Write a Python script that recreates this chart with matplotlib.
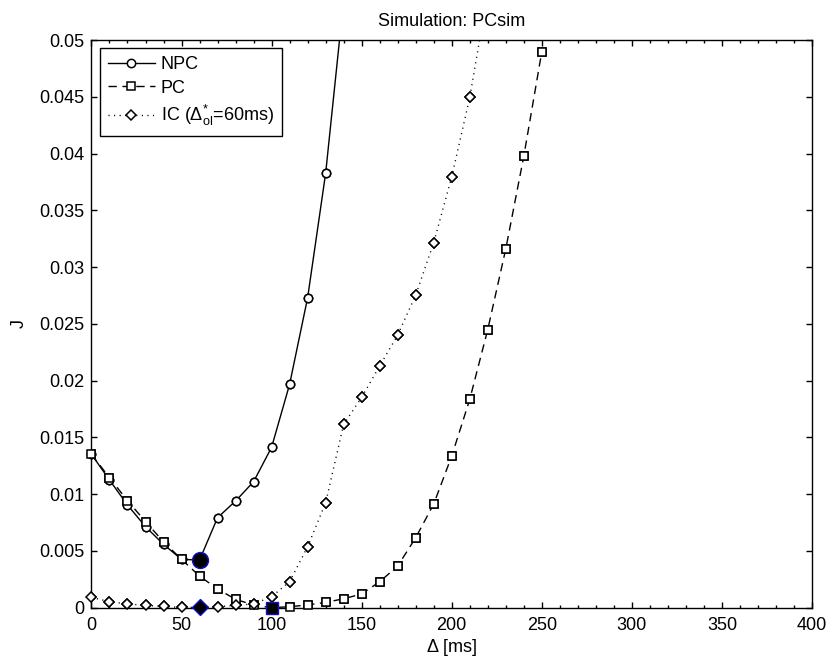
import matplotlib
matplotlib.use("Agg")
import matplotlib.pyplot as plt
import numpy as np

plt.rcParams['font.family'] = ['Liberation Sans', 'DejaVu Sans']
plt.rcParams['mathtext.fontset'] = 'custom'
plt.rcParams['mathtext.rm'] = 'Liberation Sans'
plt.rcParams['mathtext.it'] = 'Liberation Sans'

# data
delta_npc = [0, 10, 20, 30, 40, 50, 60, 70, 80, 90, 100, 110, 120, 130, 140]
j_npc = [0.01351, 0.01125, 0.00905, 0.00714, 0.00558, 0.00426, 0.00420, 0.00793,
         0.00940, 0.01110, 0.01413, 0.01968, 0.02730, 0.03826, 0.05350]

delta_pc = [0, 10, 20, 30, 40, 50, 60, 70, 80, 90, 100, 110, 120, 130, 140, 150, 160,
            170, 180, 190, 200, 210, 220, 230, 240, 250]
j_pc = [0.01351, 0.01145, 0.00943, 0.00758, 0.00581, 0.00426, 0.00279, 0.00165,
        0.00074, 0.00024, 0.00000, 0.00009, 0.00024, 0.00047, 0.00079, 0.00121,
        0.00229, 0.00367, 0.00617, 0.00913, 0.01336, 0.01835, 0.02450, 0.03160,
        0.03976, 0.04897]

delta_ic = [0, 10, 20, 30, 40, 50, 60, 70, 80, 90, 100, 110, 120, 130, 140, 150, 160,
            170, 180, 190, 200, 210, 220]
j_ic = [0.00091, 0.00053, 0.00033, 0.00021, 0.00012, 0.00003, 0.00003, 0.00009,
        0.00021, 0.00033, 0.00097, 0.00229, 0.00537, 0.00925, 0.01615, 0.01853,
        0.02129, 0.02402, 0.02754, 0.03215, 0.03796, 0.04495, 0.05420]

# optimum points (filled markers)
opt_npc = (60, 0.00420)
opt_pc = (100, 0.00000)
opt_ic = (60, 0.00003)

x_ticks = [0, 50, 100, 150, 200, 250, 300, 350, 400]
y_ticks = [0, 0.005, 0.01, 0.015, 0.02, 0.025, 0.03, 0.035, 0.04, 0.045, 0.05]
y_ticklabels = ['0', '0.005', '0.01', '0.015', '0.02', '0.025', '0.03', '0.035',
                '0.04', '0.045', '0.05']

xmax, ymax = 400, 0.05

fig = plt.figure(figsize=(8.3, 6.61), dpi=100)
ax = fig.add_axes([0.1102, 0.0806, 0.8681, 0.8588])

series = [
    (delta_npc, j_npc, 'o', 6, '-', 'NPC'),
    (delta_pc, j_pc, 's', 5.8, (0, (6, 4)), 'PC'),
    (delta_ic, j_ic, 'D', 5.2, (0, (0.8, 3.2)), r'IC ($\Delta^{*}_{\mathrm{ol}}$=60ms)'),
]

for xs, ys, mk, ms, ls, lab in series:
    xs = np.array(xs)
    ys = np.array(ys)
    ax.plot(xs, ys, color='k', lw=1.0, linestyle=ls, marker=mk, markersize=ms,
            markerfacecolor='white', markeredgecolor='k', markeredgewidth=1.1,
            label=lab)
    # markers are not cut at the axes edge (MATLAB style)
    inside = ys <= ymax
    ax.plot(xs[inside], ys[inside], linestyle='none', marker=mk, markersize=ms,
            markerfacecolor='white', markeredgecolor='k', markeredgewidth=1.1,
            clip_on=False, zorder=3)

ax.plot(*opt_npc, marker='o', markersize=11.5, markerfacecolor='k',
        markeredgecolor='#1010d0', markeredgewidth=1.0, clip_on=False, zorder=4)
ax.plot(*opt_pc, marker='s', markersize=9, markerfacecolor='k',
        markeredgecolor='#1010d0', markeredgewidth=1.0, clip_on=False, zorder=4)
ax.plot(*opt_ic, marker='D', markersize=8.2, markerfacecolor='k',
        markeredgecolor='#1010d0', markeredgewidth=1.0, clip_on=False, zorder=4)

ax.set_xlim(0, xmax)
ax.set_ylim(0, ymax)
ax.set_xticks(x_ticks)
ax.set_xticks(np.arange(0, 401, 10), minor=True)
ax.set_yticks(y_ticks)
ax.set_yticklabels(y_ticklabels)
ax.tick_params(which='both', direction='in', top=True, right=True,
               labelsize=13, width=1.0)
ax.tick_params(which='major', length=4.5)
ax.tick_params(axis='x', which='major', pad=7)
ax.tick_params(axis='y', which='major', pad=5)
ax.tick_params(which='minor', length=2.4)
for sp in ax.spines.values():
    sp.set_linewidth(1.0)

ax.set_title('Simulation: PCsim', fontsize=13, pad=10)
ax.set_xlabel('Δ [ms]', fontsize=13, labelpad=3)
ax.set_ylabel('J', fontsize=13, labelpad=8)

leg = ax.legend(loc='upper left', fontsize=13, numpoints=1, fancybox=False,
                framealpha=1, edgecolor='k', handlelength=2.6, handletextpad=0.35,
                borderaxespad=0.45, borderpad=0.45, labelspacing=0.35)
leg.get_frame().set_linewidth(1.0)

fig.savefig('out.png', dpi=100)
